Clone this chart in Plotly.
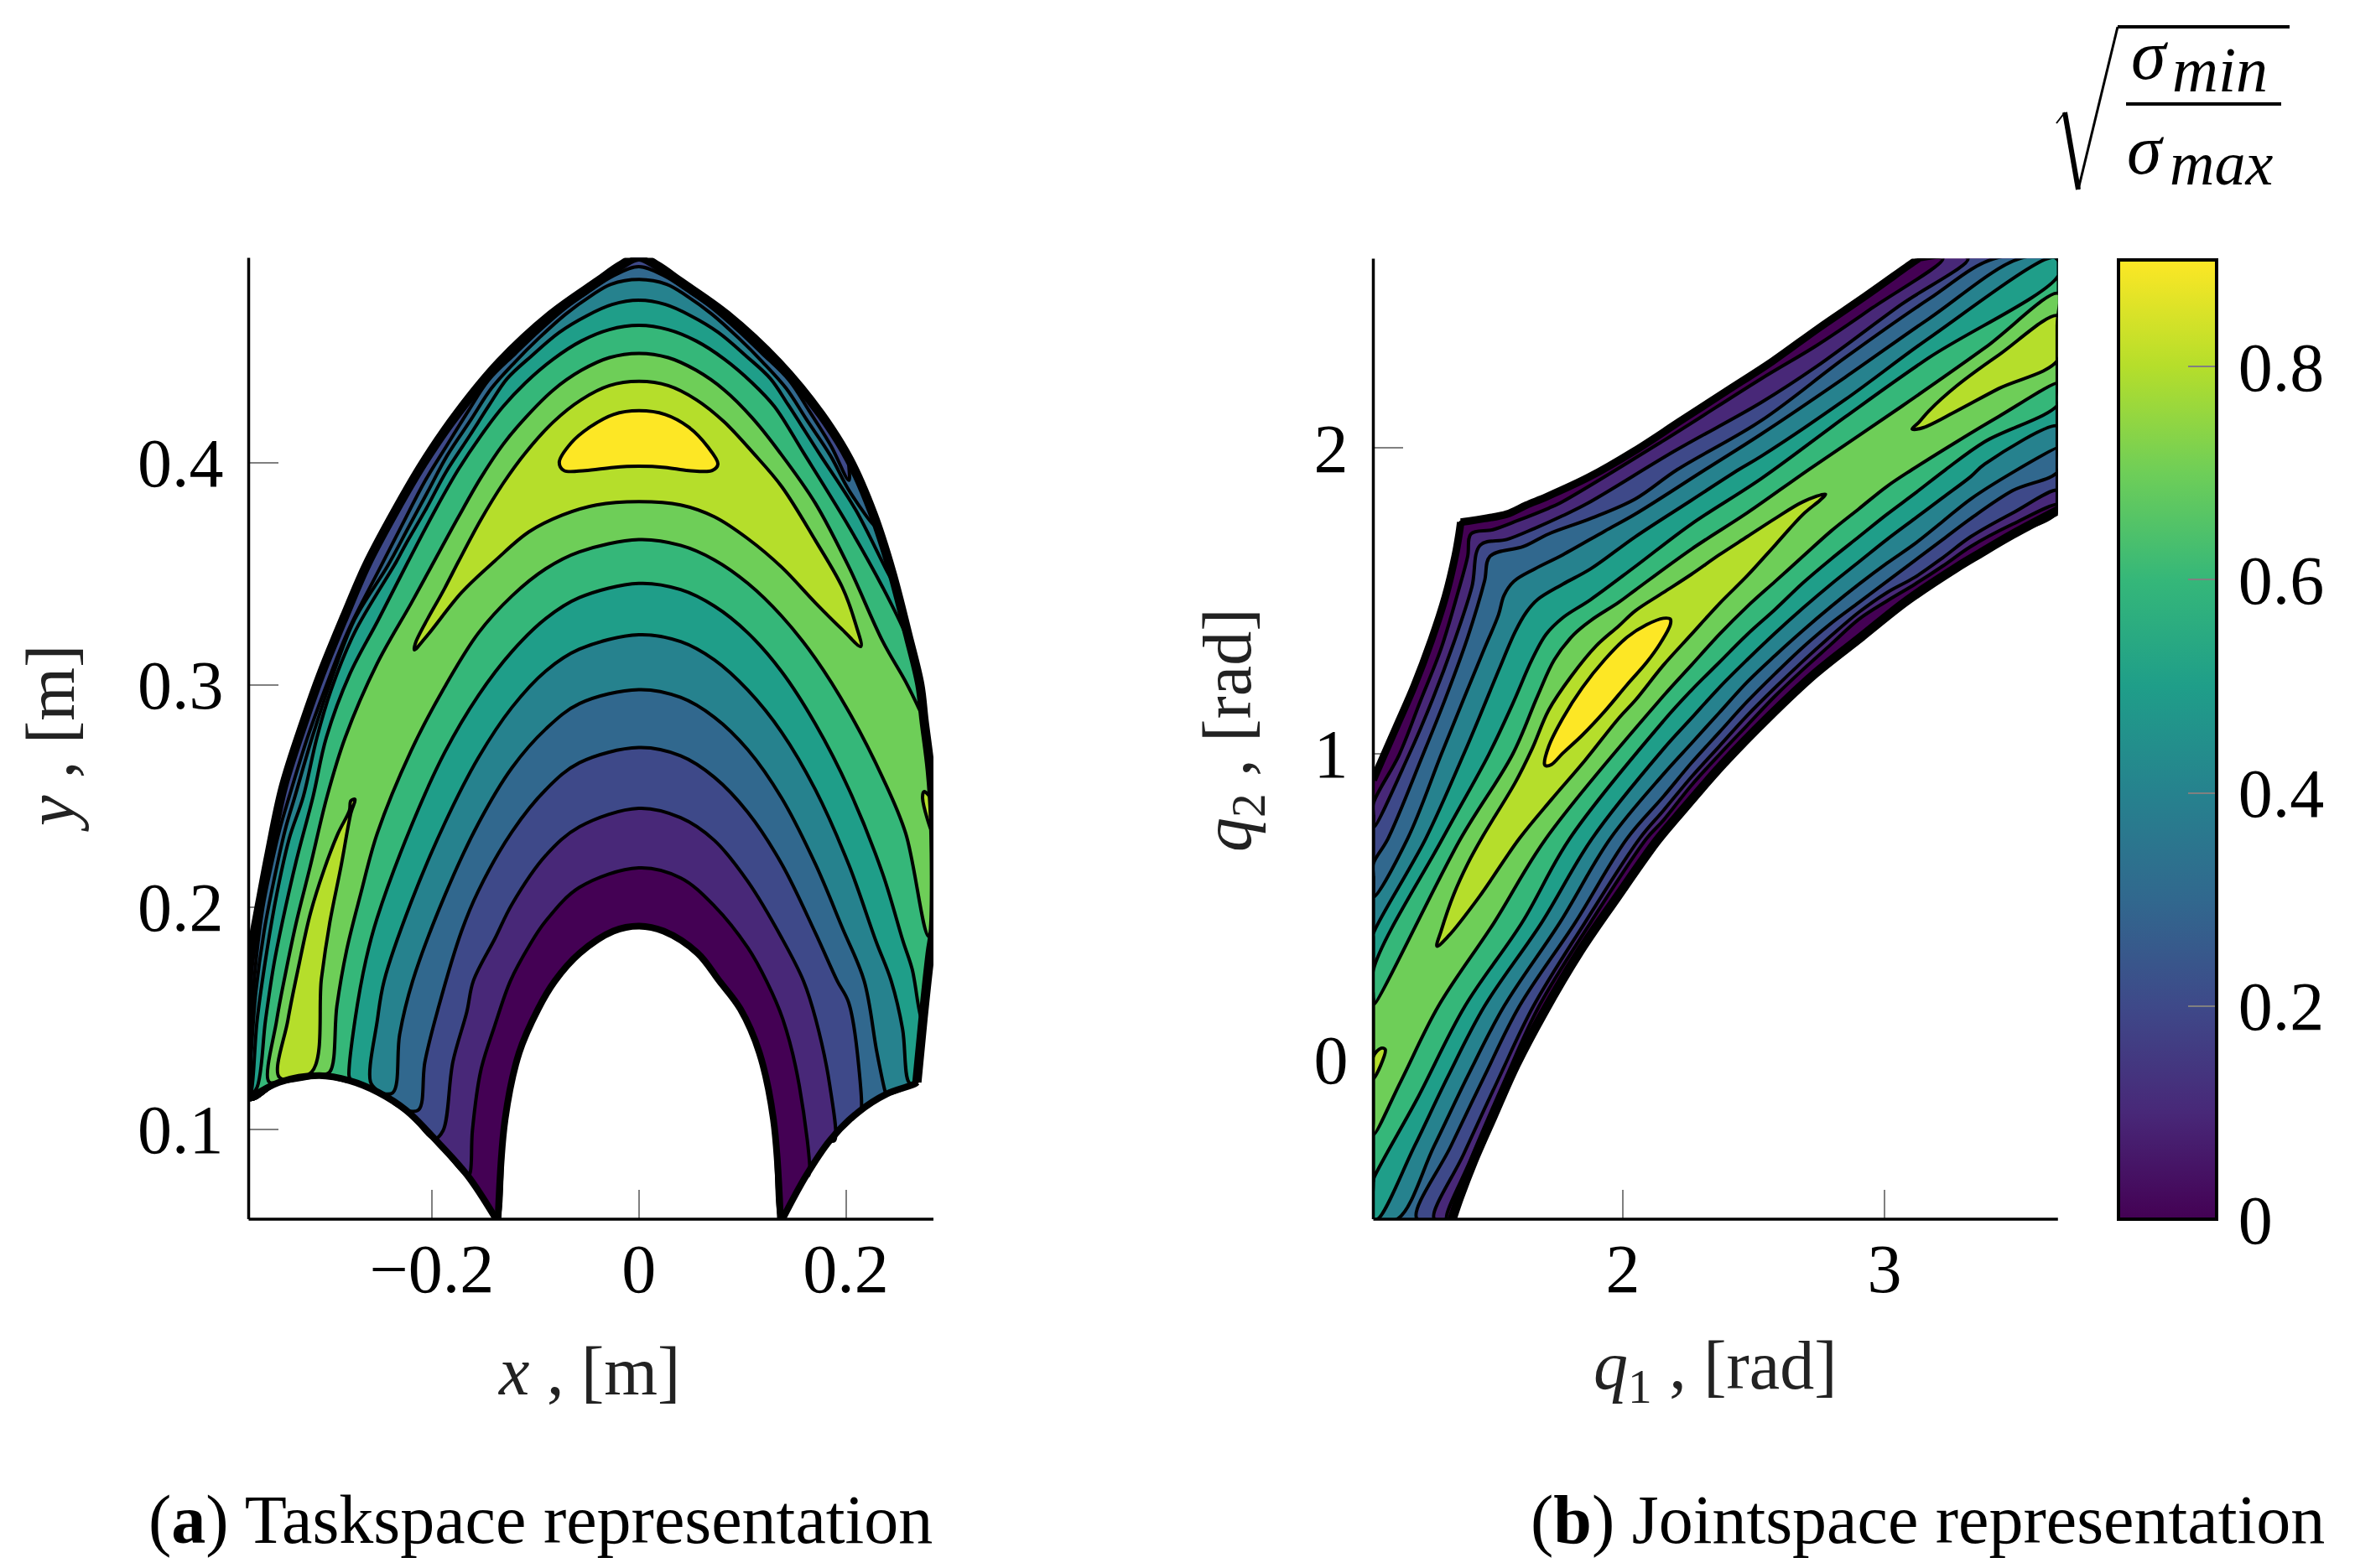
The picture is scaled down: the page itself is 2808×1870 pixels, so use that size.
import plotly.graph_objects as go

W, H = 2808, 1870
OFF = 8  # the page body has an 8 px margin
VIRIDIS_10 = ["#440154", "#482878", "#3e4989", "#31688e", "#26828e",
              "#1f9e89", "#35b779", "#6ece58", "#b5de2b", "#fde725"]

# ---------- Task space (data units: x [m], y [m]) ----------
A_LOW_L = [(-.3768,.1136),(-.3473,.1211),(-.3086,.1241),(-.2791,.1218),(-.2518,.1166),(-.2245,.1084),(-.1973,.0957),(-.1655,.0792),(-.1382,.0598)]
A_ARCH = [(-.1359,.0598),(-.1291,.1046),(-.1155,.1345),(-.0973,.154),(-.081,.1667),(-.0573,.1791),(-.0247,.1891),(0,.1914),(.0241,.1891),(.0566,.1793),(.0778,.1667),(.0982,.154),(.1164,.1345),(.13,.1046),(.1368,.0598)]
A_LOW_R = [(.1391,.0598),(.1618,.0792),(.1845,.0949),(.2118,.1076),(.2391,.1158),(.2664,.1203)]
A_EDGE = [(.2686,.1211),(.2745,.1495),(.2815,.1794),(.2846,.19),(.2846,.24),(.2815,.2616),(.2755,.284),(.2715,.3),(.2601,.3221),(.2442,.3509),(.2262,.3769),(.2033,.4014),(.1758,.4217),(.135,.4448),(.0851,.4664),(.0395,.4815),(.018,.4885),(0,.4925),(-.018,.4885),(-.0395,.4815),(-.0851,.4664),(-.135,.4448),(-.1758,.4217),(-.2079,.3999),(-.2349,.3784),(-.2628,.3539),(-.2842,.3307),(-.3069,.3048),(-.3228,.284),(-.3433,.2541),(-.3569,.2242),(-.366,.2018),(-.3735,.1824),(-.3768,.17)]

A_IN = {
 1: [(-.1632,.08),(-.1607,.0994),(-.1526,.1264),(-.1391,.1466),(-.124,.1667),(-.1061,.1823),(-.0898,.1937),(-.0573,.2088),(0,.2176),(.0404,.2131),(.0729,.2005),(.1054,.1816),(.1233,.1667),(.1391,.1495),(.155,.1196),(.1641,.0792)],
 2: [(-.189,.0994),(-.1796,.1302),(-.1661,.1528),(-.1598,.1667),(-.1386,.1861),(-.1224,.2013),(-.0898,.2232),(-.0573,.2361),(0,.2444),(.0404,.2402),(.0729,.23),(.1054,.2114),(.138,.1861),(.1591,.1667),(.1709,.1495),(.1845,.1196),(.1891,.0949)],
 3: [(-.2125,.1088),(-.2066,.1302),(-.1931,.1554),(-.1712,.1891),(-.1549,.2073),(-.1224,.2339),(-.0898,.2528),(-.0573,.2649),(0,.2717),(.0404,.268),(.0729,.2584),(.1054,.2425),(.138,.2194),(.1705,.1884),(.1917,.1667),(.2027,.157),(.2127,.1271),(.2141,.1076)],
 4: [(-.2376,.1164),(-.2309,.1428),(-.2184,.1667),(-.1875,.205),(-.1549,.2376),(-.1224,.2627),(-.0898,.2801),(-.0573,.2915),(0,.2978),(.0404,.2943),(.0729,.2854),(.1054,.2707),(.138,.249),(.1705,.2194),(.1966,.1906),(.2177,.1667),(.23,.1345),(.2382,.1166)],
 5: [(-.2592,.1214),(-.2525,.1491),(-.246,.1667),(-.22,.202),(-.1875,.2376),(-.1549,.2672),(-.1224,.2899),(-.0898,.3062),(-.0573,.316),(0,.3225),(.0404,.3194),(.0729,.3112),(.1054,.2975),(.138,.2786),(.1705,.2528),(.2031,.2187),(.2291,.1846),(.2438,.1667),(.2548,.145),(.2609,.1211)],
 6: [(-.28,.1245),(-.2741,.1491),(-.2633,.1767),(-.2526,.1952),(-.22,.2361),(-.1875,.2695),(-.1549,.2952),(-.1224,.315),(-.0898,.3298),(-.0573,.3392),(0,.3456),(.0404,.3428),(.0729,.3354),(.1054,.3233),(.138,.3059),(.1705,.2824),(.2031,.2528),(.2356,.2149),(.2552,.1846),(.2641,.1719),(.2732,.1495)],
 7: [(-.2984,.1258),(-.2916,.1554),(-.2822,.1805),(-.2687,.2057),(-.2526,.2331),(-.22,.2702),(-.1875,.299),(-.1549,.3233),(-.1224,.34),(-.0898,.3522),(-.0573,.3598),(0,.3653),(.0404,.3627),(.0729,.3562),(.1054,.3456),(.138,.3309),(.1705,.3119),(.2031,.2877),(.2356,.2581),(.2578,.2331),(.28,.1868)],
}
A_OUT = {
 3: [(.203,.392),(.1855,.4076),(.1645,.4233),(.145,.4371),(.1191,.4491),(.0964,.4592),(.07,.4698),(.0467,.4774),(.0257,.4837),(0,.4881),(-.0257,.4837),(-.0467,.4774),(-.07,.4698),(-.0964,.4592),(-.1191,.4491),(-.145,.4371),(-.1645,.4233),(-.1855,.4076),(-.2071,.3912),(-.2274,.373),(-.2511,.3515),(-.2808,.3242),(-.3035,.2975),(-.32,.2762),(-.3376,.2497),(-.347,.2346),(-.3551,.2183),(-.3632,.1994),(-.3713,.1679),(-.374,.1453)],
 4: [(.2291,.371),(.2039,.3868),(.185,.4032),(.1618,.4195),(.1423,.4334),(.1194,.4453),(.0964,.456),(.0708,.4667),(.0465,.4749),(.027,.4802),(0,.4824),(-.027,.4802),(-.0465,.4749),(-.0708,.4667),(-.0964,.456),(-.1194,.4453),(-.1423,.4334),(-.1618,.4195),(-.185,.4032),(-.2039,.3868),(-.2228,.3705),(-.2425,.3535),(-.2745,.3293),(-.2973,.3019),(-.3155,.2762),(-.3321,.2497),(-.3416,.2346),(-.3524,.212),(-.3618,.1893),(-.3699,.1616),(-.374,.1365)],
 5: [(.2454,.3468),(.2096,.3786),(.1738,.4044),(.1445,.4258),(.127,.4378),(.104,.4478),(.077,.4585),(.05,.4661),(.0257,.4711),(0,.473),(-.0257,.4711),(-.05,.4661),(-.077,.4585),(-.104,.4478),(-.127,.4378),(-.1445,.4258),(-.1634,.412),(-.1863,.3956),(-.2052,.3793),(-.2255,.3629),(-.2341,.3554),(-.2745,.3235),(-.2973,.2975),(-.3109,.2762),(-.324,.2497),(-.3376,.2308),(-.3497,.2057),(-.3591,.1805),(-.3686,.1491),(-.374,.1176)],
 6: [(.2664,.31),(.2578,.3225),(.2356,.3438),(.2031,.371),(.1591,.4044),(.131,.4252),(.1094,.4359),(.0824,.4466),(.0554,.4547),(.0284,.4598),(0,.4617),(-.0284,.4598),(-.0554,.4547),(-.0824,.4466),(-.1094,.4359),(-.131,.4252),(-.1526,.412),(-.1742,.3969),(-.1958,.3793),(-.2228,.3554),(-.2518,.329),(-.2791,.3048),(-.3018,.2762),(-.3146,.2497),(-.3308,.2208),(-.3443,.1931),(-.3524,.1742),(-.3605,.1491),(-.3686,.1189)],
 7: [(.2709,.2889),(.2578,.3013),(.2356,.3195),(.2031,.3528),(.1705,.3817),(.1364,.4044),(.1094,.4202),(.0824,.4327),(.0554,.4415),(.0284,.4472),(0,.4491),(-.0284,.4472),(-.0554,.4415),(-.0824,.4327),(-.1094,.4202),(-.131,.4082),(-.1526,.3931),(-.1742,.3755),(-.2012,.3525),(-.22,.3365),(-.2526,.3096),(-.2836,.2762),(-.3011,.2497),(-.3173,.2183),(-.3308,.1931),(-.3416,.1692),(-.3497,.1491),(-.3573,.1214)],
}
A_CRESCENT = [(-.2168,.3157),(-.2037,.3225),(-.1712,.3415),(-.1386,.3559),(-.1061,.3688),(-.0736,.3764),(-.041,.3809),(0,.3824),(.0404,.3809),(.0729,.3756),(.1054,.3657),(.138,.3529),(.1705,.3369),(.1966,.3248),(.2145,.3172),(.2096,.3271),(.1966,.3438),(.1705,.365),(.138,.3892),(.1103,.4044),(.0824,.4183),(.0554,.4283),(.0284,.4346),(0,.4365),(-.0284,.4346),(-.0554,.4283),(-.0824,.4183),(-.1094,.4044),(-.131,.3906),(-.1526,.3742),(-.1742,.3554),(-.1875,.3434),(-.2151,.3195)]
A_SLIVER_L = [(-.347,.1233),(-.3389,.1491),(-.3281,.1742),(-.3173,.1969),(-.3038,.217),(-.2903,.2333),(-.2795,.2434),(-.2781,.2478),(-.2741,.2484),(-.2781,.2422),(-.2876,.2183),(-.2984,.1931),(-.3065,.1679),(-.3159,.1258)]
A_SLIVER_R = [(.2755,.2519),(.2846,.2467),(.2846,.2324),(.2741,.2489)]
A_PEAK = [(-.0768,.4),(-.0655,.4087),(-.0473,.4159),(-.0245,.4216),(0,.4233),(.0255,.4216),(.0482,.4159),(.0664,.4072),(.0764,.3993),(.0709,.3964),(.0482,.3964),(.0255,.3978),(0,.3983),(-.0245,.3978),(-.0518,.3964),(-.0723,.3964)]

# ---------- Joint space (data units: q1 [rad], q2 [rad]) ----------
B_EDGE_UP_1 = [(1.047,.914),(1.0605,.9416),(1.1352,1.0878),(1.2025,1.2203),(1.2687,1.371),(1.3221,1.5127),(1.3595,1.6452),(1.375,1.72),(1.3809,1.7567)]
B_EDGE_UP_2 = [(1.41,1.76),(1.4717,1.7685),(1.5571,1.783),(1.6319,1.8125),(1.71,1.84),(1.87,1.9036),(2.0457,1.99),(2.2214,2.088),(2.3972,2.1855),(2.5729,2.283),(2.7487,2.391),(2.9244,2.494),(3.109,2.606),(3.13,2.618),(3.665,2.618)]
B_EDGE_RIGHT = [(3.665,2.4),(3.665,2.2),(3.665,2.0)]
B_EDGE_LOW = [(3.665,1.796),(3.49,1.7167),(3.362,1.6527),(3.276,1.6084),(3.0861,1.50),(2.9104,1.3807),(2.7346,1.2615),(2.5589,1.1206),(2.384,.967),(2.207,.793),(2.1285,.7123),(1.9736,.525),(1.8348,.3514),(1.696,.1504),(1.5891,-.0232),(1.5037,-.1877),(1.4289,-.3339),(1.3755,-.4527),(1.3488,-.5203),(1.047,-.522)]
B_EDGE_LEFT = [(1.047,-.4),(1.047,-.2),(1.047,0),(1.047,.2),(1.047,.4),(1.047,.6),(1.047,.8)]

B_U = {
 1: [(1.047,.8366),(1.1459,.9965),(1.226,1.1701),(1.3061,1.3437),(1.3702,1.5264),(1.4076,1.6452),(1.4204,1.7183),(1.5037,1.732),(1.5998,1.7622),(1.7173,1.8024),(1.76,1.8188),(2.15,2.02),(2.529,2.2255),(2.7426,2.3351),(2.9562,2.4585),(3.2232,2.6183)],
 2: [(1.047,.7589),(1.1833,.9965),(1.2741,1.1792),(1.3542,1.3619),(1.4236,1.5447),(1.4556,1.6817),(1.5571,1.6999),(1.6639,1.7366),(1.7707,1.7777),(1.8668,1.8188),(2.2,1.99),(2.529,2.1478),(2.7426,2.2666),(3.063,2.4676),(3.3193,2.6183)],
 3: [(1.047,.64),(1.1032,.7223),(1.2367,.9965),(1.3221,1.1792),(1.4076,1.3802),(1.4717,1.563),(1.493,1.6452),(1.6212,1.6772),(1.7173,1.7183),(1.8775,1.7685),(2.0484,1.8326),(2.2086,1.9285),(2.529,2.0884),(2.8494,2.294),(3.1698,2.4859),(3.4208,2.6183)],
 4: [(1.047,.5304),(1.178,.7223),(1.3061,.9965),(1.3969,1.1883),(1.4717,1.344),(1.5251,1.4533),(1.5464,1.5173),(1.5838,1.563),(1.6639,1.604),(1.7707,1.6498),(1.9309,1.7274),(2.0484,1.7832),(2.3154,1.9285),(2.529,2.0445),(2.8494,2.23),(3.1698,2.4219),(3.5169,2.6183)],
 5: [(1.047,.4116),(1.2474,.7223),(1.3916,.9965),(1.4503,1.1153),(1.5251,1.2706),(1.5891,1.3985),(1.6319,1.4625),(1.6746,1.5036),(1.7707,1.5538),(1.8775,1.6041),(2.0484,1.7092),(2.262,1.828),(2.4436,1.9285),(2.529,1.972),(2.8494,2.1569),(3.1698,2.358),(3.6237,2.6183)],
 6: [(1.047,.2929),(1.3115,.7223),(1.4877,.9965),(1.5785,1.1609),(1.6532,1.3071),(1.7066,1.3894),(1.7707,1.4442),(1.8775,1.5036),(2.0484,1.612),(2.262,1.7503),(2.529,1.8988),(2.8494,2.1),(3.1698,2.2941),(3.665,2.5635)],
 7: [(1.047,.1787),(1.3809,.7223),(1.5785,.9965),(1.6746,1.1883),(1.7387,1.3071),(1.8134,1.3894),(1.8775,1.435),(1.9843,1.4944),(2.0484,1.535),(2.262,1.6681),(2.4756,1.7869),(2.7106,1.9285),(3.063,2.1335),(3.3834,2.3262),(3.665,2.5041)],
}
B_D = {
 1: [(1.3275,-.5203),(1.4183,-.3284),(1.5518,-.0635),(1.68,.1741),(1.8775,.4482),(2.0911,.7223),(2.1552,.7818),(2.262,.896),(2.3688,.9965),(2.4756,1.0925),(2.5824,1.1884),(2.6892,1.2752),(2.796,1.3574),(2.9028,1.4397),(3.0096,1.499),(3.1164,1.5539),(3.2232,1.6133),(3.33,1.6772),(3.4902,1.7503),(3.665,1.8143)],
 2: [(1.2794,-.5203),(1.3916,-.3102),(1.5251,-.0635),(1.6585,.1741),(1.8561,.4482),(2.0644,.7223),(2.1552,.8138),(2.262,.9234),(2.3688,1.0239),(2.4756,1.1244),(2.5824,1.2158),(2.6892,1.3026),(2.796,1.3849),(2.9028,1.4625),(3.0096,1.5265),(3.1164,1.5767),(3.2232,1.6407),(3.33,1.7092),(3.4902,1.7869),(3.665,1.86)],
 3: [(1.2132,-.5203),(1.3435,-.2828),(1.4717,-.0544),(1.605,.1741),(1.8188,.4482),(2.0163,.7223),(2.1552,.8595),(2.262,.9691),(2.3688,1.0696),(2.4756,1.1701),(2.5824,1.2615),(2.6892,1.3483),(2.796,1.426),(2.9028,1.4945),(3.0096,1.563),(3.1164,1.6315),(3.2232,1.7001),(3.33,1.7686),(3.4902,1.86),(3.665,1.924)],
 4: [(1.1406,-.5203),(1.2794,-.2828),(1.4076,-.0544),(1.5464,.1741),(1.76,.4482),(1.9523,.7223),(2.1552,.9326),(2.262,1.033),(2.3688,1.1336),(2.4756,1.2341),(2.5824,1.3209),(2.6892,1.4031),(2.796,1.4808),(2.9028,1.5539),(3.0096,1.6224),(3.1164,1.6864),(3.2232,1.7595),(3.33,1.8326),(3.4902,1.9194),(3.665,2.0016)],
 5: [(1.0658,-.5203),(1.2047,-.2828),(1.3328,-.0544),(1.4717,.1741),(1.6906,.4482),(1.8828,.7223),(2.1552,1.0148),(2.262,1.1153),(2.3688,1.2158),(2.4756,1.307),(2.5824,1.394),(2.6892,1.4762),(2.796,1.5539),(2.9028,1.627),(3.0096,1.7001),(3.1164,1.7686),(3.2232,1.8371),(3.33,1.9057),(3.3834,1.9468),(3.665,2.0701)],
 6: [(1.047,-.3924),(1.2153,-.1274),(1.3969,.1741),(1.6158,.4482),(1.7974,.7223),(2.1552,1.1062),(2.262,1.2067),(2.3688,1.2981),(2.4756,1.3894),(2.5824,1.4716),(2.6892,1.5585),(2.796,1.6361),(2.9028,1.7092),(3.0096,1.7823),(3.1164,1.8508),(3.2339,1.9285),(3.3834,2.0199),(3.665,2.1432)],
 7: [(1.047,-.2462),(1.1513,-.0726),(1.2954,.1741),(1.509,.4482),(1.7066,.7223),(2.1552,1.1884),(2.262,1.2889),(2.3688,1.3894),(2.4756,1.4808),(2.5824,1.563),(2.6892,1.6453),(2.796,1.7275),(2.9028,1.8006),(3.0096,1.8737),(3.1057,1.9285),(3.2766,2.0199),(3.4368,2.1021),(3.665,2.2118)],
}
B_BAND8_MAIN = [(1.2901,.3705),(1.3061,.4208),(1.3542,.5396),(1.4076,.6401),(1.4663,.7315),(1.5891,.9051),(1.6532,1.0147),(1.7173,1.1427),(1.8027,1.2523),(1.899,1.3528),(1.9843,1.4168),(2.0484,1.4671),(2.1552,1.5265),(2.262,1.5859),(2.3688,1.6498),(2.4756,1.7092),(2.5824,1.7686),(2.6892,1.8234),(2.7746,1.8481),(2.7533,1.828),(2.6892,1.7823),(2.5824,1.6818),(2.4756,1.5813),(2.3688,1.4899),(2.262,1.3894),(2.1552,1.2889),(2.0484,1.1747),(1.9843,1.1153),(1.8561,.9782),(1.728,.8503),(1.605,.7223),(1.4503,.5304),(1.3328,.4025)]
B_BAND8_TIP = [(3.665,2.431),(3.4368,2.3031),(3.2766,2.2026),(3.1698,2.1204),(3.1324,2.0838),(3.1057,2.061),(3.1484,2.0656),(3.2766,2.1204),(3.4368,2.1935),(3.665,2.2894)]
B_BAND8_SPOT = [(1.047,-.063),(1.0925,.0325),(1.0765,.037),(1.047,.0096)]
B_PEAK = [(1.7013,.9645),(1.7173,1.0239),(1.7707,1.1153),(1.8455,1.2157),(1.9309,1.3071),(2.0163,1.3802),(2.0911,1.4213),(2.1552,1.4424),(2.1818,1.4396),(2.1818,1.4213),(2.1445,1.3619),(2.0911,1.298),(2.0163,1.2249),(1.9309,1.1381),(1.8455,1.0604),(1.7707,1.001),(1.728,.9645),(1.7066,.9599)]

X1_RANGE, Y1_RANGE = [-.3768, .2846], [.0595, .4921]
X2_RANGE, Y2_RANGE = [1.047, 3.663], [-.522, 2.618]
X1_TICKS, X1_TEXT = [-.2, 0, .2], ["−0.2", "0", "0.2"]
Y1_TICKS, Y1_TEXT = [.1, .2, .3, .4], ["0.1", "0.2", "0.3", "0.4"]
X2_TICKS, X2_TEXT = [2, 3], ["2", "3"]
Y2_TICKS, Y2_TEXT = [0, 1, 2], ["0", "1", "2"]
CB_TICKS, CB_TEXT = [0, .2, .4, .6, .8], ["\u200a0", "\u200a0.2", "\u200a0.4", "\u200a0.6", "\u200a0.8"]


def near(ring, p):
    return min(range(len(ring)), key=lambda i: (ring[i][0]-p[0])**2 + (ring[i][1]-p[1])**2)


def walk(ring, a, b):
    i, j = near(ring, a), near(ring, b)
    out = [ring[i]]
    while i != j:
        i = (i + 1) % len(ring)
        out.append(ring[i])
    return out


def band(first, second, ring):
    if second is None:
        return first + walk(ring, first[-1], first[0])
    return first + walk(ring, first[-1], second[0]) + second + walk(ring, second[-1], first[0])


def area(fig, pts, color, xa, ya, lw=4):
    closed = pts + pts[:1]
    fig.add_trace(go.Scatter(
        x=[p[0] for p in closed], y=[p[1] for p in closed], xaxis=xa, yaxis=ya,
        mode="lines", fill="toself", fillcolor=color, hoverinfo="skip", showlegend=False,
        line=dict(color="black", width=lw, shape="spline", smoothing=1.0)))


def outline(fig, pts, xa, ya, lw):
    fig.add_trace(go.Scatter(
        x=[p[0] for p in pts], y=[p[1] for p in pts], xaxis=xa, yaxis=ya,
        mode="lines", hoverinfo="skip", showlegend=False,
        line=dict(color="black", width=lw, shape="spline", smoothing=1.0)))


fig = go.Figure()

# task space
ring_a = A_LOW_L + A_ARCH + A_LOW_R + A_EDGE
area(fig, ring_a, VIRIDIS_10[0], "x", "y")
for k in range(1, 8):
    area(fig, band(A_IN[k], A_OUT.get(k), ring_a), VIRIDIS_10[k], "x", "y")
for s in (A_CRESCENT, A_SLIVER_L, A_SLIVER_R):
    area(fig, s, VIRIDIS_10[8], "x", "y")
area(fig, A_PEAK, VIRIDIS_10[9], "x", "y")
outline(fig, A_EDGE + A_LOW_L[:1], "x", "y", 11)
outline(fig, A_LOW_L, "x", "y", 8)
outline(fig, A_ARCH, "x", "y", 8)
outline(fig, A_LOW_R + A_EDGE[:1], "x", "y", 8)

# joint space
ring_b = B_EDGE_UP_1 + B_EDGE_UP_2 + B_EDGE_RIGHT + B_EDGE_LOW + B_EDGE_LEFT
area(fig, ring_b, VIRIDIS_10[0], "x2", "y2")
for k in range(1, 8):
    area(fig, band(B_U[k], B_D[k][::-1], ring_b), VIRIDIS_10[k], "x2", "y2")
for s in (B_BAND8_MAIN, B_BAND8_TIP, B_BAND8_SPOT):
    area(fig, s, VIRIDIS_10[8], "x2", "y2")
area(fig, B_PEAK, VIRIDIS_10[9], "x2", "y2")
outline(fig, B_EDGE_UP_1, "x2", "y2", 9)
outline(fig, B_EDGE_UP_1[-1:] + B_EDGE_UP_2[:-1], "x2", "y2", 9)
outline(fig, B_EDGE_UP_2[-2:] + B_EDGE_RIGHT + B_EDGE_LOW[:1], "x2", "y2", 7)
outline(fig, B_EDGE_LOW[:-1], "x2", "y2", 11)

# colour bar
fig.add_trace(go.Scatter(
    x=[None], y=[None], xaxis="x2", yaxis="y2", mode="markers", showlegend=False, hoverinfo="skip",
    marker=dict(color=[0], cmin=0, cmax=.9, colorscale="Viridis", showscale=True,
                colorbar=dict(x=(2526-OFF)/W, xanchor="left", xpad=0, y=1-(1454-OFF)/H, yanchor="bottom", ypad=0,
                              lenmode="pixels", len=1454-310, thicknessmode="pixels", thickness=117,
                              outlinewidth=4, outlinecolor="black",
                              tickmode="array", tickvals=CB_TICKS, ticktext=CB_TEXT,
                              ticks="inside", ticklen=36, tickwidth=2, tickcolor="#808080",
                              ticklabelposition="outside",
                              tickfont=dict(family="Liberation Serif", size=82, color="black")))))

FONT = dict(family="Liberation Serif", size=82, color="black")


def axis(dom, rng, vals, text, anchor, standoff):
    return dict(domain=dom, range=rng, tickmode="array", tickvals=vals, ticktext=text, anchor=anchor,
                ticks="inside", ticklen=35, tickwidth=2, tickcolor="#808080", tickfont=FONT,
                ticklabelstandoff=standoff, showgrid=False, zeroline=False, showline=False,
                layer="below traces", fixedrange=True)


def xdom(a, b):
    return [(a-OFF)/W, (b-OFF)/W]


def ydom(top, bottom):
    return [1-(bottom-OFF)/H, 1-(top-OFF)/H]


fig.update_layout(
    width=W, height=H, margin=dict(l=0, r=0, t=0, b=0), paper_bgcolor="white", plot_bgcolor="white",
    showlegend=False,
    xaxis=axis(xdom(296.5, 1113), X1_RANGE, X1_TICKS, X1_TEXT, "y", 4),
    yaxis=axis(ydom(307.5, 1454), Y1_RANGE, Y1_TICKS, Y1_TEXT, "x", 29),
    xaxis2=axis(xdom(1637.5, 2453.8), X2_RANGE, X2_TICKS, X2_TEXT, "y2", 4),
    yaxis2=axis(ydom(308.5, 1454), Y2_RANGE, Y2_TICKS, Y2_TEXT, "x2", 29),
)

# left and bottom spines, above the contours
for xr, yr in (("x domain", "y domain"), ("x2 domain", "y2 domain")):
    fig.add_shape(type="line", xref=xr, yref=yr, x0=0, x1=0, y0=0, y1=1, line=dict(color="black", width=3.5), layer="above")
    fig.add_shape(type="line", xref=xr, yref=yr, x0=0, x1=1, y0=0, y1=0, line=dict(color="black", width=3.5), layer="above")


def label(px, py, text, size=82, angle=0, anchor="center", color="black"):
    fig.add_annotation(x=(px-OFF)/W, y=1-(py-OFF)/H, xref="paper", yref="paper", text=text, showarrow=False, textangle=angle,
                       xanchor=anchor, yanchor="middle", font=dict(family="Liberation Serif", size=size, color=color))


label(702, 1635, "<i>x</i> , [m]", color="#222222")
label(61, 881, "<i>y</i> , [m]", angle=-90, color="#222222")
label(2045, 1634, "<i>q</i><sub>1</sub> , [rad]", color="#222222")
label(1469, 871, "<i>q</i><sub>2</sub> , [rad]", angle=-90, color="#222222")
label(1114, 1812, "(<b>a</b>) Taskspace representation", size=82, anchor="right")
label(2774, 1812, "(<b>b</b>) Jointspace representation", size=82, anchor="right")

# radical sign and fraction of the colour-bar title
label(2563, 66, "<i>σ</i>", size=84)
label(2588, 83, "<i>min</i>", size=76, anchor="left")
label(2558, 179, "<i>σ</i>", size=84)
label(2585, 195, "<i>max</i>", size=74, anchor="left")
for (x0, y0, x1, y1, w) in [(2452, 147, 2462, 134, 2), (2462, 134, 2478, 226, 6), (2478, 226, 2525, 32, 3),
                            (2525, 32, 2730, 32, 4), (2535, 124, 2720, 124, 4)]:
    fig.add_shape(type="line", xref="paper", yref="paper", x0=(x0-OFF)/W, x1=(x1-OFF)/W, y0=1-(y0-OFF)/H, y1=1-(y1-OFF)/H,
                  line=dict(color="black", width=w))

fig.write_html("out.html")
